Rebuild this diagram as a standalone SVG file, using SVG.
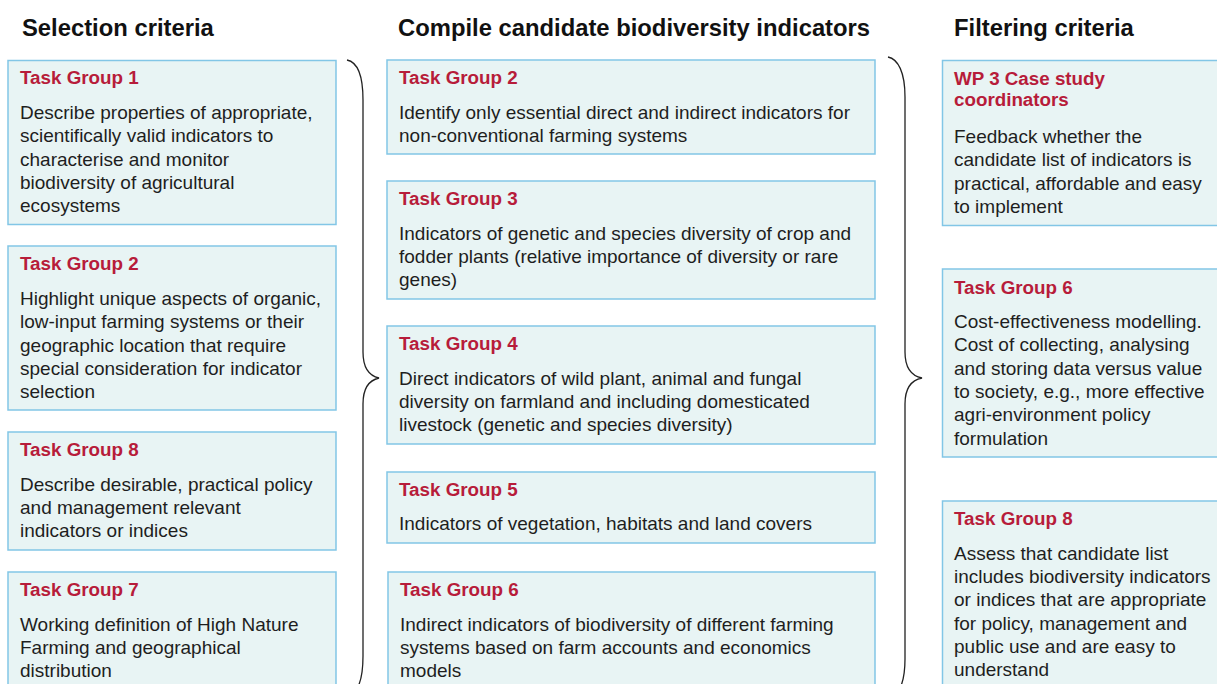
<svg xmlns="http://www.w3.org/2000/svg" width="1217" height="684" viewBox="0 0 1217 684">
<style>
.box{fill:#E8F4F4;stroke:#82C6E6;stroke-width:1.5}
.hdr{font-family:"Liberation Sans",Arial,sans-serif;font-weight:bold;font-size:23.8px;fill:#111}
.ttl{font-family:"Liberation Sans",Arial,sans-serif;font-weight:bold;font-size:18.8px;fill:#B71C3A}
.txt{font-family:"Liberation Sans",Arial,sans-serif;font-size:19px;fill:#1E1E1E}
.brace{fill:none;stroke:#222;stroke-width:1.3}
</style>
<rect width="1217" height="684" fill="#fff"/>
<g id="headers">
<text class="hdr" x="22" y="36">Selection criteria</text>
<text class="hdr" x="398" y="36">Compile candidate biodiversity indicators</text>
<text class="hdr" x="954" y="36">Filtering criteria</text>
</g>
<g id="connectors">
<path class="brace" d="M347,60 C357,62 363,75 363,100 L363,352 C363,369 370,376 379,378 C370,380 363,387 363,404 L363,656 C363,681 357,694 347,696"/>
<path class="brace" d="M888,57 C898,59 905,72 905,97 L905,352 C905,369 912,376 922,378 C912,380 905,387 905,404 L905,659 C905,684 898,697 888,699"/>
</g>
<g id="sel-tg1">
<rect class="box" x="8" y="60.5" width="328" height="164"/>
<text class="ttl" x="20" y="84">Task Group 1</text>
<text class="txt" x="20" y="119">Describe properties of appropriate,</text>
<text class="txt" x="20" y="142">scientifically valid indicators to</text>
<text class="txt" x="20" y="166">characterise and monitor</text>
<text class="txt" x="20" y="189">biodiversity of agricultural</text>
<text class="txt" x="20" y="212">ecosystems</text>
</g>
<g id="sel-tg2">
<rect class="box" x="8" y="246" width="328" height="164"/>
<text class="ttl" x="20" y="270">Task Group 2</text>
<text class="txt" x="20" y="305">Highlight unique aspects of organic,</text>
<text class="txt" x="20" y="328">low-input farming systems or their</text>
<text class="txt" x="20" y="352">geographic location that require</text>
<text class="txt" x="20" y="375">special consideration for indicator</text>
<text class="txt" x="20" y="398">selection</text>
</g>
<g id="sel-tg8">
<rect class="box" x="8" y="432" width="328" height="118"/>
<text class="ttl" x="20" y="456">Task Group 8</text>
<text class="txt" x="20" y="491">Describe desirable, practical policy</text>
<text class="txt" x="20" y="514">and management relevant</text>
<text class="txt" x="20" y="537">indicators or indices</text>
</g>
<g id="sel-tg7">
<rect class="box" x="8" y="572" width="328" height="130"/>
<text class="ttl" x="20" y="596">Task Group 7</text>
<text class="txt" x="20" y="631">Working definition of High Nature</text>
<text class="txt" x="20" y="654">Farming and geographical</text>
<text class="txt" x="20" y="677">distribution</text>
</g>
<g id="cmp-tg2">
<rect class="box" x="387" y="60" width="488" height="94"/>
<text class="ttl" x="399" y="84">Task Group 2</text>
<text class="txt" x="399" y="119">Identify only essential direct and indirect indicators for</text>
<text class="txt" x="399" y="142">non-conventional farming systems</text>
</g>
<g id="cmp-tg3">
<rect class="box" x="387" y="181" width="488" height="118"/>
<text class="ttl" x="399" y="205">Task Group 3</text>
<text class="txt" x="399" y="240">Indicators of genetic and species diversity of crop and</text>
<text class="txt" x="399" y="263">fodder plants (relative importance of diversity or rare</text>
<text class="txt" x="399" y="286">genes)</text>
</g>
<g id="cmp-tg4">
<rect class="box" x="387" y="326" width="488" height="118"/>
<text class="ttl" x="399" y="350">Task Group 4</text>
<text class="txt" x="399" y="385">Direct indicators of wild plant, animal and fungal</text>
<text class="txt" x="399" y="408">diversity on farmland and including domesticated</text>
<text class="txt" x="399" y="431">livestock (genetic and species diversity)</text>
</g>
<g id="cmp-tg5">
<rect class="box" x="387" y="472" width="488" height="71"/>
<text class="ttl" x="399" y="496">Task Group 5</text>
<text class="txt" x="399" y="530">Indicators of vegetation, habitats and land covers</text>
</g>
<g id="cmp-tg6">
<rect class="box" x="388" y="572" width="487" height="130"/>
<text class="ttl" x="400" y="596">Task Group 6</text>
<text class="txt" x="400" y="631">Indirect indicators of biodiversity of different farming</text>
<text class="txt" x="400" y="654">systems based on farm accounts and economics</text>
<text class="txt" x="400" y="677">models</text>
</g>
<g id="flt-wp3">
<rect class="box" x="942.5" y="60.5" width="290" height="165"/>
<text class="ttl" x="954" y="85">WP 3 Case study</text>
<text class="ttl" x="954" y="106">coordinators</text>
<text class="txt" x="954" y="143">Feedback whether the</text>
<text class="txt" x="954" y="166">candidate list of indicators is</text>
<text class="txt" x="954" y="190">practical, affordable and easy</text>
<text class="txt" x="954" y="213">to implement</text>
</g>
<g id="flt-tg6">
<rect class="box" x="942.5" y="269" width="290" height="188"/>
<text class="ttl" x="954" y="294">Task Group 6</text>
<text class="txt" x="954" y="328">Cost-effectiveness modelling.</text>
<text class="txt" x="954" y="351">Cost of collecting, analysing</text>
<text class="txt" x="954" y="375">and storing data versus value</text>
<text class="txt" x="954" y="398">to society, e.g., more effective</text>
<text class="txt" x="954" y="421">agri-environment policy</text>
<text class="txt" x="954" y="445">formulation</text>
</g>
<g id="flt-tg8">
<rect class="box" x="942.5" y="501" width="290" height="200"/>
<text class="ttl" x="954" y="525">Task Group 8</text>
<text class="txt" x="954" y="560">Assess that candidate list</text>
<text class="txt" x="954" y="583">includes biodiversity indicators</text>
<text class="txt" x="954" y="606">or indices that are appropriate</text>
<text class="txt" x="954" y="630">for policy, management and</text>
<text class="txt" x="954" y="653">public use and are easy to</text>
<text class="txt" x="954" y="676">understand</text>
</g>
</svg>
